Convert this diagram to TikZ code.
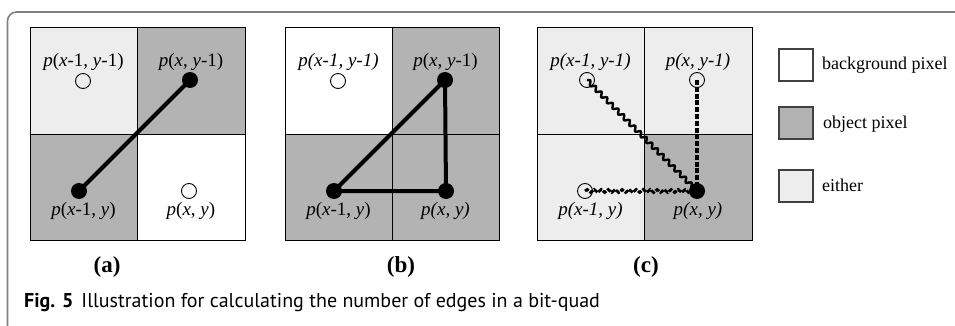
\documentclass[tikz,border=0pt]{standalone}
\usepackage{fontspec}
\setmainfont{Liberation Serif}
\newfontfamily\capfont{PT Sans}
\usetikzlibrary{decorations.pathmorphing}
\definecolor{objgray}{HTML}{B3B3B3}
\definecolor{eithergray}{HTML}{EDEDED}
\definecolor{framegray}{HTML}{808080}
\begin{document}
\begin{tikzpicture}[x=1pt,y=-1pt,
  grid/.style={draw=black, line width=1pt},
  fdot/.style={circle, fill=black, minimum size=16pt, inner sep=0pt},
  odot/.style={circle, draw=black, fill=none, line width=0.9pt, minimum size=15pt, inner sep=0pt},
  plbl/.style={font=\fontsize{19}{19}\selectfont, inner sep=0pt},
  sublbl/.style={font=\fontsize{23}{23}\selectfont\bfseries, inner sep=0pt},
  legbox/.style={draw=black!75, line width=1.1pt},
  legtxt/.style={font=\fontsize{18}{18}\selectfont, anchor=west, inner sep=0pt},
  edgeline/.style={line width=4pt},
  wavy/.style={line width=2.4pt, decorate, decoration={snake, amplitude=2pt, segment length=8pt}},
  wavydash/.style={line width=2.8pt, dash pattern=on 4.5pt off 1.3pt, decorate, decoration={snake, amplitude=1.5pt, segment length=7pt}},
  dashv/.style={line width=3.5pt, dash pattern=on 5pt off 1.8pt}
]
\useasboundingbox (0,0) rectangle (955,326);
% frame
\draw[framegray, line width=1.6pt, rounded corners=9pt] (955,12) -- (7.5,12) -- (7.5,326);

% ---------- panel (a) ----------
\fill[eithergray] (30,28) rectangle (137.5,134);
\fill[objgray] (137.5,28) rectangle (245,134);
\fill[objgray] (30,134) rectangle (137.5,240);
\fill[white] (137.5,134) rectangle (245,240);
\draw[grid] (30,28) rectangle (245,240) (137.5,28) -- (137.5,240) (30,134) -- (245,134);
\node[plbl] (aTLl) at (83.5,62) {\textit{p}(\textit{x}-1, \textit{y}-1)};
\node[plbl] (aTRl) at (191,62) {\textit{p}(\textit{x}, \textit{y}-1)};
\node[plbl] (aBLl) at (83.5,211) {\textit{p}(\textit{x}-1, \textit{y})};
\node[plbl] (aBRl) at (191,211) {\textit{p}(\textit{x}, \textit{y})};
\node[odot] (aTL) at (83,81) {};
\node[fdot] (aTR) at (190,80) {};
\node[fdot] (aBL) at (79,191) {};
\node[odot] (aBR) at (189,191) {};
\draw[edgeline] (aBL.center) -- (aTR.center);
\node[sublbl] (la) at (107,267) {(a)};

% ---------- panel (b) ----------
\fill[white] (285,28) rectangle (392,134);
\fill[objgray] (392,28) rectangle (499,134);
\fill[objgray] (285,134) rectangle (499,240);
\draw[grid] (285,28) rectangle (499,240) (392,28) -- (392,240) (285,134) -- (499,134);
\node[plbl] (bTLl) at (338.5,62) {\itshape p(x-1, y-1)};
\node[plbl] (bTRl) at (445.5,62) {\textit{p}(\textit{x}, \textit{y}-1)};
\node[plbl] (bBLl) at (338.5,211) {\textit{p}(\textit{x}-1, \textit{y})};
\node[plbl] (bBRl) at (445.5,211) {\itshape p(x, y)};
\node[odot] (bTL) at (338,81) {};
\node[fdot] (bTR) at (445,80) {};
\node[fdot] (bBL) at (334,191) {};
\node[fdot] (bBR) at (446,191) {};
\draw[edgeline, line join=round] (bBL.center) -- (bTR.center) -- (bBR.center) -- cycle;
\node[sublbl] (lb) at (401,267) {(b)};

% ---------- panel (c) ----------
\fill[eithergray] (537,28) rectangle (752,240);
\fill[objgray] (644,134) rectangle (752,240);
\draw[grid] (537,28) rectangle (752,240) (644,28) -- (644,240) (537,134) -- (752,134);
\node[plbl] (cTLl) at (590.5,62) {\itshape p(x-1, y-1)};
\node[plbl] (cTRl) at (698,62) {\itshape p(x, y-1)};
\node[plbl] (cBLl) at (590.5,211) {\itshape p(x-1, y)};
\node[plbl] (cBRl) at (698,211) {\itshape p(x, y)};
\node[odot] (cTL) at (587,80) {};
\node[odot] (cTR) at (697,80) {};
\node[odot] (cBL) at (585,191) {};
\node[fdot] (cBR) at (697,191) {};
\draw[wavy] (cTL.center) -- (cBR.center);
\draw[wavydash] (cBL.center) -- (cBR.center);
\draw[dashv] (cTR.center) -- (cBR.center);
\node[sublbl] (lc) at (646,267) {(c)};

% ---------- legend ----------
\draw[legbox, fill=white] (779,49) rectangle (813,81);
\draw[legbox, fill=objgray] (779,107) rectangle (813,139);
\draw[legbox, fill=eithergray] (779,170) rectangle (813,202);
\node[legtxt] (t1) at (822,65) {background pixel};
\node[legtxt] (t2) at (823,124) {object pixel};
\node[legtxt] (t3) at (822,185) {either};

% ---------- caption ----------
\node[anchor=west, inner sep=0pt, font=\capfont\fontsize{20}{20}\selectfont] (cap) at (24,303)
  {\textbf{Fig. 5}\hspace{8pt}Illustration for calculating the number of edges in a bit-quad};
\end{tikzpicture}
\end{document}
